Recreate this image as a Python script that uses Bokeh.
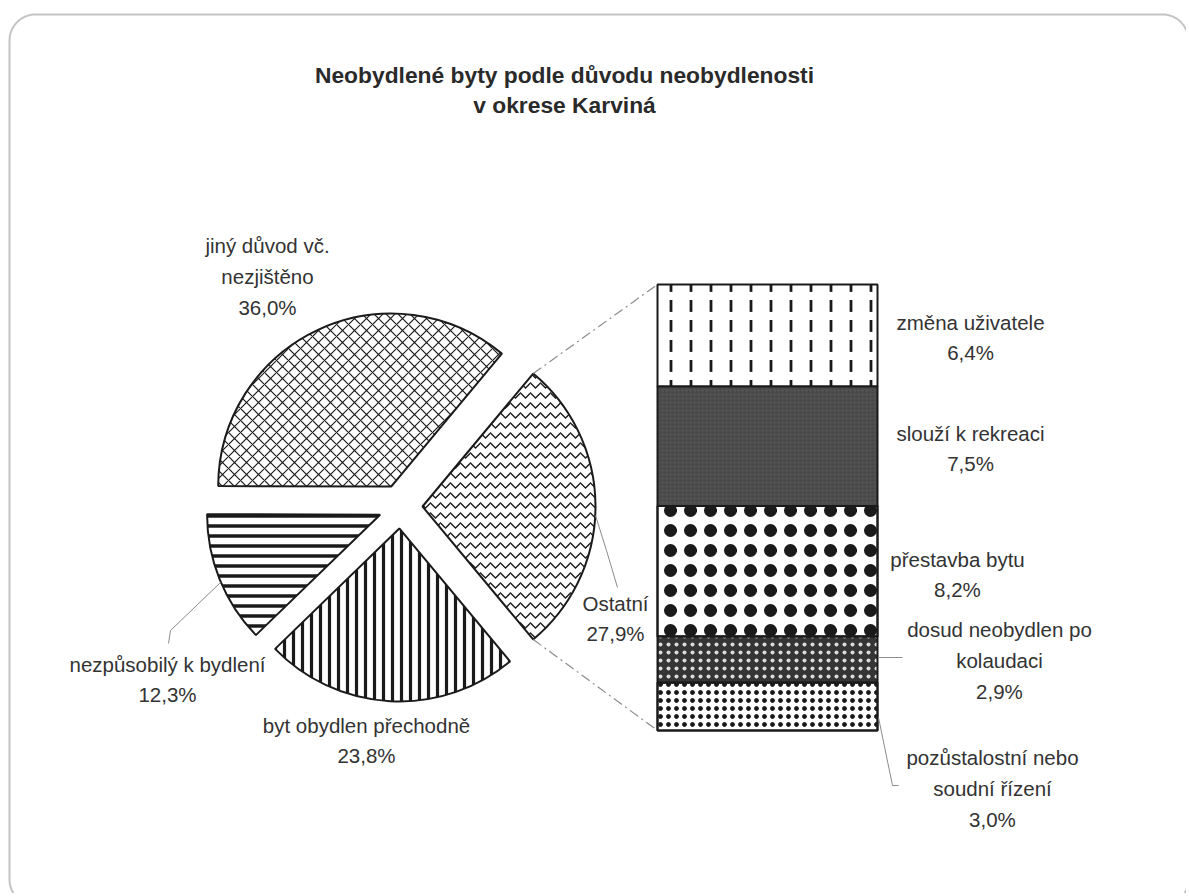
import numpy as np
from bokeh.plotting import figure
from bokeh.models import Range1d
from bokeh.core.properties import value
from bokeh.embed import file_html
from bokeh.resources import INLINE

# ---------------- data ----------------
title_lines = ["Neobydlené byty podle důvodu neobydlenosti", "v okrese Karviná"]
pie_labels = ["Ostatní", "jiný důvod vč.\nnezjištěno", "nezpůsobilý k bydlení", "byt obydlen přechodně"]
pie_values = [27.9, 36.0, 12.3, 23.8]
bar_labels = ["změna uživatele", "slouží k rekreaci", "přestavba bytu",
              "dosud neobydlen po\nkolaudaci", "pozůstalostní nebo\nsoudní řízení"]
bar_values = [6.4, 7.5, 8.2, 2.9, 3.0]


def pct(v):
    return f"{v:.1f}".replace(".", ",") + "%"


FONT = value("Liberation Sans")
TXT = "#333333"
W, H = 1186, 893
p = figure(width=W, height=H, x_range=Range1d(0, W), y_range=Range1d(-H, 0),
           output_backend="svg", toolbar_location=None, min_border=0,
           x_axis_type=None, y_axis_type=None)
p.grid.visible = False
p.outline_line_color = None
p.background_fill_color = "white"
p.border_fill_color = "white"

# ---------------- rounded frame ----------------
bx0, bx1, by0, by1, br = 9, 1188, 14, 905, 26
pts = []
for (ccx, ccy, a0, a1) in [(bx0 + br, by0 + br, 180, 270), (bx1 - br, by0 + br, 270, 360),
                           (bx1 - br, by1 - br, 0, 90), (bx0 + br, by1 - br, 90, 180)]:
    t = np.radians(np.linspace(a0, a1, 20))
    pts += list(zip(ccx + br * np.cos(t), ccy + br * np.sin(t)))
pts.append(pts[0])
p.line([q[0] for q in pts], [-q[1] for q in pts], line_color="#c4c4c4", line_width=2)

# ---------------- title ----------------
p.text(x=[564, 564], y=[-74, -104], text=title_lines, text_font=FONT, text_font_style="bold",
       text_font_size="22.8px", text_align="center", text_baseline="middle", text_color="#2a2a2a")

# ---------------- pie ----------------
cx, cy, R, explode = 400, -506, 173, 22
vals = np.array(pie_values)
ang = vals / vals.sum() * 2 * np.pi
starts = -ang[0] / 2 + np.concatenate([[0], np.cumsum(ang)[:-1]])
ends = starts + ang
mids = (starts + ends) / 2
wx = cx + explode * np.cos(mids)
wy = cy + explode * np.sin(mids)

pie_hatch = ["horizontal_wave", "diagonal_cross", "horizontal_line", "vertical_line"]
pie_hscale = [10, 12, 10, 9]
pie_hweight = [1.3, 1.2, 3.5, 3.2]
for i in range(len(vals)):
    p.wedge(x=[wx[i]], y=[wy[i]], radius=R, start_angle=[starts[i]], end_angle=[ends[i]],
            fill_color="white", hatch_pattern=pie_hatch[i], hatch_color="#1a1a1a",
            hatch_scale=pie_hscale[i], hatch_weight=pie_hweight[i],
            line_color="#1a1a1a", line_width=2)

# ---------------- bar of "Ostatní" ----------------
bar_x0, bar_x1, bar_top, bar_h = 657, 877, -284, 446
bv = np.array(bar_values)
unit = bar_h / bv.sum()
tops = bar_top - unit * np.concatenate([[0], np.cumsum(bv)[:-1]])
bots = tops - unit * bv

bar_fill = ["white", "#4a4a4a", "white", "#353535", "white"]
bar_hatch = ["vertical_dash", "dot", "dot", "dot", "dot"]
bar_hcolor = ["#1a1a1a", "#5a5a5a", "#1a1a1a", "#dcdcdc", "#1a1a1a"]
bar_hscale = [20, 4, 20, 8, 8]
bar_hweight = [2.8, 1, 1, 1, 1]
for i in range(len(bv)):
    p.quad(left=[bar_x0], right=[bar_x1], top=[tops[i]], bottom=[bots[i]],
           fill_color=bar_fill[i], hatch_pattern=bar_hatch[i], hatch_color=bar_hcolor[i],
           hatch_scale=bar_hscale[i], hatch_weight=bar_hweight[i],
           line_color="#1a1a1a", line_width=2)
# fatter diamonds for "přestavba bytu"
p.quad(left=[bar_x0], right=[bar_x1], top=[tops[2]], bottom=[bots[2]],
       fill_alpha=0, hatch_pattern="ring", hatch_color="#1a1a1a", hatch_scale=20,
       hatch_weight=3, line_color="#1a1a1a", line_width=2)
# denser specks for "pozůstalostní nebo soudní řízení"
p.quad(left=[bar_x0], right=[bar_x1], top=[tops[4]], bottom=[bots[4]],
       fill_alpha=0, hatch_pattern="ring", hatch_color="#1a1a1a", hatch_scale=8,
       hatch_weight=1, line_color="#1a1a1a", line_width=2)

# ---------------- connectors ----------------
a_top, a_bot = ends[0], starts[0]
p.line([wx[0] + R * np.cos(a_top), bar_x0], [wy[0] + R * np.sin(a_top), bar_top],
       line_color="#8c8c8c", line_width=1.2, line_dash="10 4 2 4")
p.line([wx[0] + R * np.cos(a_bot), bar_x0], [wy[0] + R * np.sin(a_bot), bots[-1]],
       line_color="#8c8c8c", line_width=1.2, line_dash="10 4 2 4")

# leader lines
p.multi_line(xs=[[595, 606, 617], [220, 170, 168], [878, 902], [878, 892, 898]],
             ys=[[-515, -550, -587], [-582, -630, -643], [-657, -657], [-717, -785, -785]],
             line_color="#8c8c8c", line_width=1)

# ---------------- labels ----------------
pie_lx = [615, 267, 167, 366]
pie_ly = [-618, -276, -679, -740]
p.text(x=pie_lx, y=pie_ly, text=[f"{l}\n{pct(v)}" for l, v in zip(pie_labels, pie_values)],
       text_font=FONT, text_font_size="20.5px", text_align="center", text_baseline="middle",
       text_color=TXT, text_line_height=1.33)

bar_lx = [970, 970, 957, 999, 992]
bar_ly = [-337, -448, -574, -660, -788]
p.text(x=bar_lx, y=bar_ly, text=[f"{l}\n{pct(v)}" for l, v in zip(bar_labels, bar_values)],
       text_font=FONT, text_font_size="20.5px", text_align="center", text_baseline="middle",
       text_color=TXT, text_line_height=1.33)

open("out.html", "w").write(file_html(p, INLINE))
